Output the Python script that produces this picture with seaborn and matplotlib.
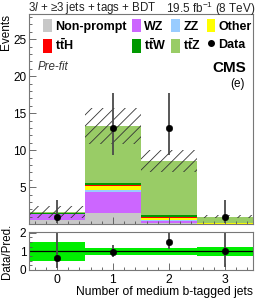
import numpy as np
import pandas as pd
import matplotlib
matplotlib.use("Agg")
import matplotlib.pyplot as plt
from matplotlib.patches import Patch
from matplotlib.lines import Line2D
import seaborn as sns

# Yields per bin of number of medium b-tagged jets
nbjets = [0, 1, 2, 3]
edges = [-0.5, 0.5, 1.5, 2.5, 3.5]
nonprompt = [0.60, 1.55, 0.10, 0.00]
wz = [0.70, 2.75, 0.35, 0.05]
zz = [0.03, 0.30, 0.05, 0.01]
other = [0.05, 0.50, 0.35, 0.05]
tth = [0.02, 0.25, 0.10, 0.02]
ttw = [0.05, 0.15, 0.25, 0.04]
ttz = [0.15, 7.80, 7.30, 0.83]
syst_unc = [0.80, 2.45, 1.50, 0.23]
data = [1, 13, 13, 1]
data_lo = [0.83, 3.6, 3.6, 0.83]
data_hi = [2.30, 4.7, 4.7, 2.30]

process_names = ["Non-prompt", "WZ", "ZZ", "Other", r"$\mathbf{t\bar{t}H}$",
                 r"$\mathbf{t\bar{t}W}$", r"$\mathbf{t\bar{t}Z}$"]
process_colors = ["#c8c8c8", "#cc66ff", "#99ccff", "#ffff00", "#ff0000", "#009900", "#99cc66"]
yields = [nonprompt, wz, zz, other, tth, ttw, ttz]

plt.rcParams["font.family"] = ["Liberation Sans", "DejaVu Sans"]
plt.rcParams["mathtext.fontset"] = "custom"
plt.rcParams["mathtext.rm"] = "Liberation Sans"
plt.rcParams["mathtext.it"] = "Liberation Sans:italic"
plt.rcParams["mathtext.bf"] = "Liberation Sans:bold"
plt.rcParams["hatch.linewidth"] = 0.6

rows = []
for name, vals in zip(process_names, yields):
    for nb, v in zip(nbjets, vals):
        rows.append({"nb": nb, "yield": v, "process": name})
df = pd.DataFrame(rows)

fig = plt.figure(figsize=(2.66, 3.0), dpi=100)
ax = fig.add_axes([0.109, 0.253, 0.842, 0.700])
rax = fig.add_axes([0.109, 0.100, 0.842, 0.127])

# stacked backgrounds (seaborn stacks first hue level on top)
sns.histplot(data=df, x="nb", weights="yield", hue="process",
             hue_order=process_names[::-1], palette=process_colors[::-1],
             multiple="stack", bins=edges, element="bars", alpha=1,
             linewidth=0, legend=False, ax=ax)

total = np.sum(np.array(yields), axis=0)
ax.bar(nbjets, 2 * np.array(syst_unc), bottom=total - np.array(syst_unc), width=1.0,
       fill=False, hatch="///", edgecolor="#333333", linewidth=0)

ax.errorbar(nbjets, data, yerr=[data_lo, data_hi], fmt="none", ecolor="#4a4a4a",
            elinewidth=1.3, capsize=0)
sns.scatterplot(x=nbjets, y=data, color="black", s=22, edgecolor="black", ax=ax, zorder=5)

ax.set_xlim(-0.5, 3.5)
ax.set_ylim(0, 28.4)
ax.set_yticks([5, 10, 15, 20, 25])
ax.set_xticks([0, 1, 2, 3])
ax.set_xticklabels([])
ax.set_xlabel("")
ax.set_ylabel("Events", fontsize=8.5, loc="top", labelpad=1)

# ratio panel
ratio = np.array(data) / total
r_lo = np.array(data_lo) / total
r_hi = np.array(data_hi) / total
rel = np.array(syst_unc) / total
rax.bar(nbjets, 2 * rel, bottom=1 - rel, width=1.0, color="#00ee00", linewidth=0)
rax.axhline(1, color="black", lw=0.9)
rax.errorbar(nbjets, ratio, yerr=[r_lo, r_hi], fmt="none", ecolor="#4a4a4a",
             elinewidth=1.3, capsize=0)
sns.scatterplot(x=nbjets, y=ratio, color="black", s=22, edgecolor="black", ax=rax, zorder=5)
rax.set_xlim(-0.5, 3.5)
rax.set_ylim(0, 2.05)
rax.set_yticks([0, 1, 2])
rax.set_xticks([0, 1, 2, 3])
rax.set_ylabel("Data/Pred.", fontsize=8.3, labelpad=5)
rax.set_xlabel("Number of medium b-tagged jets", fontsize=8.7, loc="right", labelpad=0)

for a in (ax, rax):
    a.minorticks_on()
    a.tick_params(which="major", direction="in", length=5, width=0.6, labelsize=8.5,
                  color="#555555", pad=2)
    a.tick_params(which="minor", direction="in", length=2.5, width=0.6, color="#555555")
    for sp in a.spines.values():
        sp.set_color("#777777")
        sp.set_linewidth(0.8)
rax.tick_params(axis="x", labelsize=8.7, pad=3)
rax.xaxis.set_minor_locator(matplotlib.ticker.MultipleLocator(0.2))
ax.xaxis.set_minor_locator(matplotlib.ticker.MultipleLocator(0.2))
rax.yaxis.set_minor_locator(matplotlib.ticker.MultipleLocator(0.25))
ax.yaxis.set_minor_locator(matplotlib.ticker.MultipleLocator(1))

# legend
handles = [Patch(facecolor=c) for c in process_colors]
handles.append(Line2D([], [], marker="o", color="black", ls="none", markersize=4))
labels = process_names + ["Data"]
order = [0, 4, 1, 5, 2, 6, 3, 7]
ax.legend([handles[i] for i in order], [labels[i] for i in order], ncol=4,
          loc="upper left", bbox_to_anchor=(0.062, 0.978), frameon=False,
          prop={"weight": "bold", "size": 9}, handlelength=0.7, handleheight=1.3,
          handletextpad=0.25, columnspacing=0.45, labelspacing=0.35, borderaxespad=0,
          borderpad=0)

ax.text(0.04, 0.735, "Pre-fit", transform=ax.transAxes, fontsize=8.3, style="italic",
        color="#333333")
ax.text(0.97, 0.725, "CMS", transform=ax.transAxes, fontsize=11, fontweight="bold",
        ha="right")
ax.text(0.965, 0.655, "(e)", transform=ax.transAxes, fontsize=8.5, ha="right")

fig.text(0.107, 0.972, r"3$l$ + ≥3 jets + tags + BDT", fontsize=8.3, va="center",
         color="#222222")
fig.text(0.962, 0.972, r"19.5 fb$^{-1}$ (8 TeV)", fontsize=8.5, va="center", ha="right",
         color="#222222")

fig.savefig("out.png", dpi=100)
